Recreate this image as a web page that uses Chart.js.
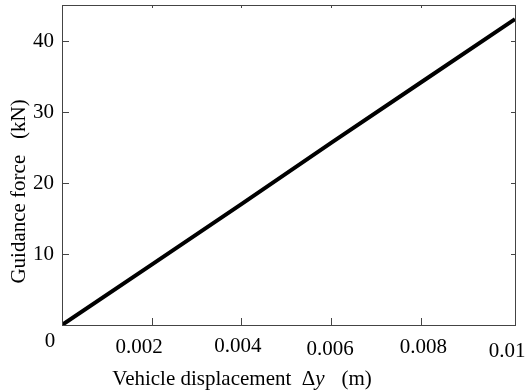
<!DOCTYPE html>
<html>
<head>
<meta charset="utf-8">
<script src="https://cdn.jsdelivr.net/npm/chart.js@4.4.0/dist/chart.umd.min.js"></script>
<style>
html,body{margin:0;padding:0;background:#fff;}
#wrap{width:528px;height:391px;position:relative;}
</style>
</head>
<body>
<div id="wrap"><canvas id="c" width="528" height="391"></canvas></div>
<script>
const displacement = [0, 0.002, 0.004, 0.006, 0.008, 0.01, 0.0101];
const guidanceForce = [0, 8.5, 17.0, 25.6, 34.1, 42.6, 43.0];
const xTickValues = [0.002, 0.004, 0.006, 0.008, 0.01];
const xTickLabels = ['0.002', '0.004', '0.006', '0.008', '0.01'];
const yTickValues = [10, 20, 30, 40];
const yTickLabels = ['10', '20', '30', '40'];

const FONT = '21px "Liberation Serif", "Times New Roman", serif';

const framePlugin = {
  id: 'frame',
  afterDraw(chart) {
    const ctx = chart.ctx;
    const a = chart.chartArea;
    const xs = chart.scales.x, ys = chart.scales.y;
    // label placement nudges (dx, baseline offset below axis)
    const labelDx = [-12.5, -3.5, -1, 2.5, -3.5];
    const labelDy = [28, 27, 30, 28, 32];
    ctx.save();
    ctx.strokeStyle = '#444';
    ctx.lineWidth = 1;
    ctx.strokeRect(Math.round(a.left) + 0.5, Math.round(a.top) + 0.5, Math.round(a.right - a.left), Math.round(a.bottom - a.top));
    ctx.beginPath();
    xTickValues.forEach(v => {
      if (v >= 0.0099) return;
      const px = Math.round(xs.getPixelForValue(v)) + 0.5;
      ctx.moveTo(px, a.bottom); ctx.lineTo(px, a.bottom - 7);
      ctx.moveTo(px, a.top); ctx.lineTo(px, a.top + 3);
    });
    yTickValues.forEach(v => {
      const py = Math.round(ys.getPixelForValue(v)) + 0.5;
      ctx.moveTo(a.left, py); ctx.lineTo(a.left + 7, py);
      ctx.moveTo(a.right, py); ctx.lineTo(a.right - 4, py);
    });
    ctx.stroke();

    ctx.fillStyle = '#000';
    ctx.font = FONT;
    ctx.textAlign = 'center';
    ctx.textBaseline = 'alphabetic';
    xTickValues.forEach((v, i) => {
      const px = xs.getPixelForValue(v) + labelDx[i];
      ctx.fillText(xTickLabels[i], px, a.bottom + labelDy[i]);
    });
    ctx.fillText('0', a.left - 12, a.bottom + 22);

    ctx.textAlign = 'right';
    ctx.textBaseline = 'middle';
    yTickValues.forEach((v, i) => {
      ctx.fillText(yTickLabels[i], a.left - 8, ys.getPixelForValue(v) + 1);
    });

    // x title with italic y
    const p1 = 'Vehicle displacement  \u0394', p2 = 'y', p3 = '   (m)';
    ctx.textAlign = 'left';
    ctx.textBaseline = 'alphabetic';
    ctx.font = FONT;
    const w1 = ctx.measureText(p1).width, w3 = ctx.measureText(p3).width;
    ctx.font = 'italic ' + FONT;
    const w2 = ctx.measureText(p2).width;
    let x0 = 241.5 - (w1 + w2 + w3) / 2;
    const by = 385;
    ctx.font = FONT; ctx.fillText(p1, x0, by);
    ctx.font = 'italic ' + FONT; ctx.fillText(p2, x0 + w1, by);
    ctx.font = FONT; ctx.fillText(p3, x0 + w1 + w2 + 1, by);

    // y title
    ctx.save();
    ctx.translate(25, 191.5);
    ctx.rotate(-Math.PI / 2);
    ctx.textAlign = 'center';
    ctx.textBaseline = 'alphabetic';
    ctx.font = FONT;
    ctx.fillText('Guidance force   (kN)', 0, 0);
    ctx.restore();
    ctx.restore();
  }
};

new Chart(document.getElementById('c'), {
  type: 'line',
  data: {
    datasets: [{
      data: displacement.map((x, i) => ({x: x, y: guidanceForce[i]})),
      borderColor: '#000',
      borderWidth: 4,
      pointRadius: 0,
      fill: false,
      tension: 0
    }]
  },
  options: {
    responsive: false,
    animation: false,
    layout: { padding: { left: 62, right: 13, top: 5, bottom: 66 } },
    plugins: { legend: { display: false }, tooltip: { enabled: false } },
    scales: {
      x: { type: 'linear', min: 0, max: 0.0101, display: false },
      y: { type: 'linear', min: 0, max: 45, display: false }
    }
  },
  plugins: [framePlugin]
});
</script>
</body>
</html>
